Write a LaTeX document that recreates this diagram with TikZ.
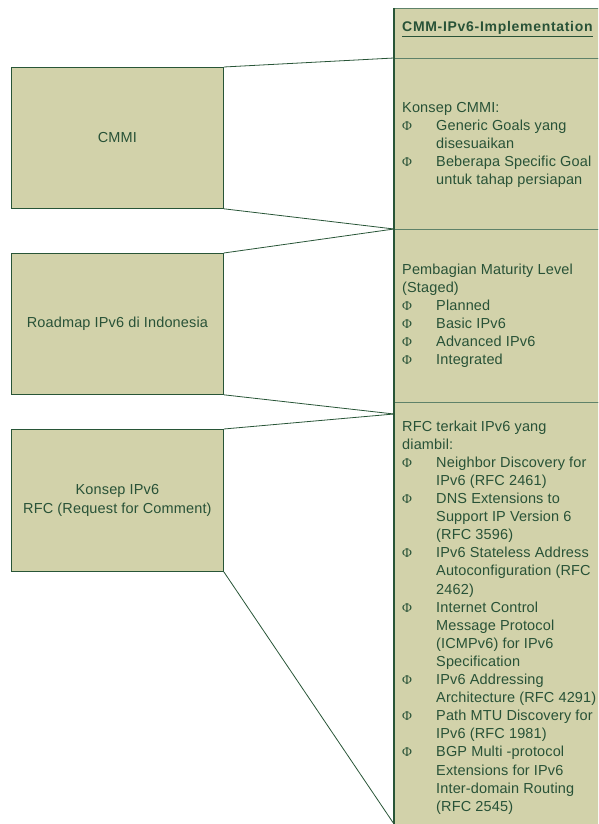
\documentclass[tikz,border=0pt]{standalone}
\usepackage{fontspec}
\setmainfont{Liberation Sans}[LetterSpace=1]
\newfontfamily\phifont{Liberation Serif}
\definecolor{boxfill}{RGB}{210,210,170}
\definecolor{boxline}{RGB}{40,85,55}
\definecolor{edgeline}{RGB}{95,130,105}
\definecolor{txt}{RGB}{40,82,55}
\newcommand{\bul}{\makebox[34pt][l]{\phifont\fontsize{13.5}{13.5}\selectfont Φ}}
\newcommand{\ind}{\hspace*{34pt}}
\tikzset{
  leftbox/.style={draw=boxline, line width=0.8pt, fill=boxfill, minimum width=212pt, text=txt,
    font=\fontsize{14.5}{18.1}\selectfont, align=center, inner sep=0pt, anchor=north west},
  colbox/.style={draw=edgeline, line width=0.8pt, fill=boxfill, minimum width=210pt, inner sep=0pt, anchor=north west},
  sectext/.style={text=txt, font=\fontsize{14.5}{18.1}\selectfont, align=left, inner sep=0pt, anchor=north west},
  conn/.style={draw=boxline, line width=0.8pt}
}
\begin{document}
\begin{tikzpicture}[x=1pt, y=-1pt]
\useasboundingbox (0,0) rectangle (598,824);
\clip (0,0) rectangle (598,824);
% right column
\node[colbox, minimum height=50pt] (hdr) at (394,8) {};
\node[colbox, minimum height=171pt] (sec1) at (394,58) {};
\node[colbox, minimum height=173pt] (sec2) at (394,229) {};
\node[colbox, minimum height=430pt] (sec3) at (394,402) {};
\draw[boxline, line width=1.6pt] (hdr.north west) -- (sec3.south west);
\coordinate (j3) at (394,414);
\coordinate (j4) at (394,824);
% header text
\node[sectext, anchor=base west, font=\fontsize{14}{18}\selectfont\bfseries\addfontfeature{LetterSpace=5}] (hdrtext) at (402,32) {\underline{CMM-IPv6-Implementation}};
% section texts
\node[sectext] (t1) at (402,99.3) {\strut Konsep CMMI:\\
\bul Generic Goals yang\\
\ind disesuaikan\\
\bul Beberapa Specific Goal\\
\ind untuk tahap persiapan};
\node[sectext] (t2) at (402,261.3) {\strut Pembagian Maturity Level\\
(Staged)\\
\bul Planned\\
\bul Basic IPv6\\
\bul Advanced IPv6\\
\bul Integrated};
\node[sectext] (t3) at (402,418.3) {\strut RFC terkait IPv6 yang\\
diambil:\\
\bul Neighbor Discovery for\\
\ind IPv6 (RFC 2461)\\
\bul DNS Extensions to\\
\ind Support IP Version 6\\
\ind (RFC 3596)\\
\bul IPv6 Stateless Address\\
\ind Autoconfiguration (RFC\\
\ind 2462)\\
\bul Internet Control\\
\ind Message Protocol\\
\ind (ICMPv6) for IPv6\\
\ind Specification\\
\bul IPv6 Addressing\\
\ind Architecture (RFC 4291)\\
\bul Path MTU Discovery for\\
\ind IPv6 (RFC 1981)\\
\bul BGP Multi -protocol\\
\ind Extensions for IPv6\\
\ind Inter-domain Routing\\
\ind (RFC 2545)};
% left boxes
\node[leftbox, minimum height=141pt] (cmmi) at (11,67) {CMMI};
\node[leftbox, minimum height=141pt] (road) at (11,253) {Roadmap IPv6 di Indonesia};
\node[leftbox, minimum height=142pt] (konsep) at (11,429) {Konsep IPv6\\RFC (Request for Comment)};
% connectors
\draw[conn] (cmmi.north east) -- (sec1.north west);
\draw[conn] (cmmi.south east) -- (sec2.north west);
\draw[conn] (road.north east) -- (sec2.north west);
\draw[conn] (road.south east) -- (j3);
\draw[conn] (konsep.north east) -- (j3);
\draw[conn] (konsep.south east) -- (j4);
\end{tikzpicture}
\end{document}
